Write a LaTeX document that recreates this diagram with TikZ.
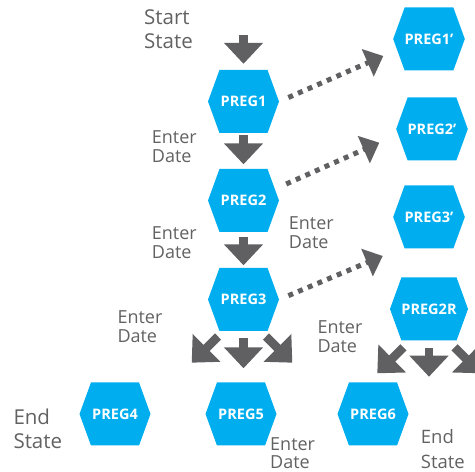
\documentclass[tikz,border=0pt]{standalone}
\usepackage{fontspec}
\setmainfont{Open Sans}
\usetikzlibrary{positioning,arrows.meta,shapes.symbols}

\definecolor{pregblue}{RGB}{0,174,239}
\definecolor{arrowgray}{RGB}{96,96,98}
\definecolor{notegray}{RGB}{98,98,98}

\tikzset{
  preg/.style={signal, signal to=west and east, signal pointer angle=140,
    fill=pregblue, text=white, font=\fontsize{14.5}{17}\bfseries,
    minimum width=71pt, minimum height=63pt, inner sep=0pt},
  note/.style={anchor=base west, align=left, inner sep=0pt, text=notegray,
    font=\fontsize{18}{18.7}\selectfont},
  bignote/.style={note, font=\fontsize{20.5}{24}\selectfont},
  bigarrow/.style={draw=arrowgray, line width=8.7pt, -{Triangle[width=38pt,length=21pt]}},
  dotarrow/.style={draw=arrowgray, line width=5pt, dash pattern=on 5pt off 5.5pt,
    -{Triangle[width=29pt,length=17pt]}}
}

\begin{document}
\begin{tikzpicture}[x=1pt, y=1pt, node distance=99pt]
\useasboundingbox (0,0) rectangle (475,472);
\clip (0,0) rectangle (475,472);

% main column
\node (preg1) [preg] at (243.5,370.5) {PREG1};
\node (preg2) [preg, below of=preg1] {PREG2};
\node (preg3) [preg, below of=preg2] {PREG3};
\node (preg5) [preg, node distance=114.5pt, below of=preg3, xshift=-2.5pt] {PREG5};
\node (preg4) [preg, node distance=126pt, left of=preg5] {PREG4};
\node (preg6) [preg, node distance=132pt, right of=preg5] {PREG6};

% right column
\node (preg1p) [preg] at (429,433) {PREG1’};
\node (preg2p) [preg, node distance=90pt, below of=preg1p, xshift=3pt] {PREG2’};
\node (preg3p) [preg, node distance=88pt, below of=preg2p, xshift=-3pt] {PREG3’};
\node (preg2r) [preg, node distance=92pt, below of=preg3p] {PREG2R};

% labels (base = last line)
\node (start) [bignote] at (144,423.7) {Start\\State};
\node (enter1) [note] at (151.7,309.3) {Enter\\Date};
\node (enter2) [note] at (151.7,213.7) {Enter\\Date};
\node (enter3) [note] at (288.7,223.7) {Enter\\Date};
\node (enter4) [note] at (117.3,129.3) {Enter\\Date};
\node (enter5) [note] at (317.3,119.7) {Enter\\Date};
\node (enter6) [note] at (270,3) {Enter\\Date};
\node (end1) [bignote] at (13.3,23) {End\\State};
\node (end2) [note, font=\fontsize{18.5}{25}\selectfont] at (420.7,3) {End\\State};

% free ends
\coordinate (in1) at ([yshift=35pt]preg1.north);
\coordinate (tip1) at (383.3,416);
\coordinate (tip2) at (379.3,329.3);
\coordinate (tip3) at (382.7,216);
\coordinate (l3a) at (218,135.5);
\coordinate (l3b) at (191.7,109.3);
\coordinate (r3a) at (266,135.5);
\coordinate (r3b) at (292.3,109.3);
\coordinate (l2a) at (403.5,124.7);
\coordinate (l2b) at (377.3,98.7);
\coordinate (d2r) at (429,95.3);
\coordinate (r2a) at (454.5,124.7);
\coordinate (r2b) at (480.7,98.7);

% solid arrows
\draw[bigarrow, shorten >=6pt] (in1) -- (preg1.north);
\draw[bigarrow, shorten <=2pt, shorten >=4.5pt] (preg1.south) -- (preg2.north);
\draw[bigarrow, shorten <=4.5pt, shorten >=2.5pt] (preg2.south) -- (preg3.north);
\draw[bigarrow, shorten <=7pt, shorten >=14pt] (preg3.south) -- (preg3.south |- preg5.north);
\draw[bigarrow] (l3a) -- (l3b);
\draw[bigarrow] (r3a) -- (r3b);
\draw[bigarrow, shorten <=7.5pt] (preg2r.south) -- (d2r);
\draw[bigarrow] (l2a) -- (l2b);
\draw[bigarrow] (r2a) -- (r2b);

% dotted arrows
\draw[dotarrow, shorten <=10pt] (preg1.east) -- (tip1);
\draw[dotarrow] ([shift={(7pt,16.5pt)}]preg2.east) -- (tip2);
\draw[dotarrow, shorten <=10pt] (preg3.east) -- (tip3);
\end{tikzpicture}
\end{document}
